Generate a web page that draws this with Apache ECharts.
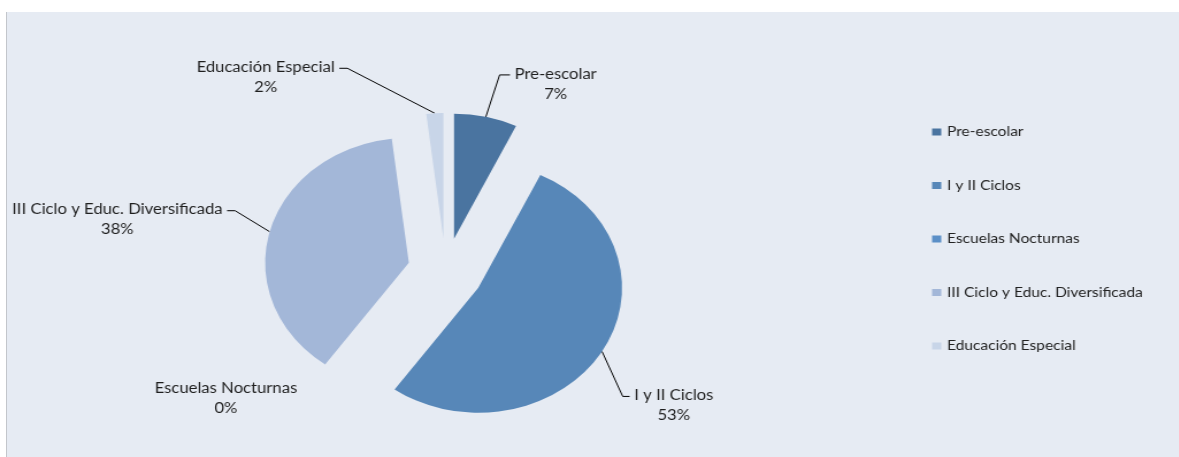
<!DOCTYPE html>
<html>
<head>
<meta charset="utf-8">
<script src="https://cdn.jsdelivr.net/npm/echarts@6/dist/echarts.min.js"></script>
<style>
  html, body { margin: 0; padding: 0; background: #ffffff; }
  body { width: 1179px; height: 457px; position: relative; overflow: hidden; }
  #panel {
    position: absolute; left: 6px; top: 12px; right: 0; bottom: 0;
    background: #e6ebf3; border-left: 1px solid #c3c6cb;
  }
  /* the plot is laid out on a narrower canvas and widened horizontally */
  #chart {
    position: absolute; left: 0; top: 0;
    width: 1025px; height: 457px;
    transform: scaleX(1.15); transform-origin: 0 0;
  }
</style>
</head>
<body>
<div id="panel"></div>
<div id="chart"></div>
<script>
// Share of students by level (percent)
const categories = [
  'Pre-escolar',
  'I y II Ciclos',
  'Escuelas Nocturnas',
  'III Ciclo y Educ. Diversificada',
  'Educación Especial'
];
const shares = [7.1, 52.8, 0, 38.2, 1.9];
const colors = ['#4a74a0', '#5787b8', '#5b8fc7', '#a3b7d8', '#c8d5e8'];

// Pie geometry
const CENTER = [387.5, 271];
const RADIUS = 125;
const EXPLODE = 33;

// Leader line shape for each label: elbow offset from the exploded slice edge, then a short horizontal tail
const guides = [
  { elbow: [12, -42], tail: 9 },
  { elbow: [18, 45], tail: 6 },
  { elbow: [-99, -1], tail: 0 },
  { elbow: [-30, -21], tail: -7 },
  { elbow: [-76, -45], tail: -7 }
];

const fontFamily = 'Lato, "Open Sans", sans-serif';

const chart = echarts.init(document.getElementById('chart'), null, { renderer: 'canvas' });

const baseSeries = {
  type: 'pie',
  center: CENTER,
  radius: RADIUS,
  startAngle: 90,
  clockwise: true,
  avoidLabelOverlap: false,
  emphasis: { disabled: true },
  itemStyle: { borderWidth: 0 }
};

chart.setOption({
  animation: false,
  backgroundColor: 'transparent',
  color: colors,
  legend: {
    orient: 'vertical',
    left: 805.5,
    top: 120,
    itemWidth: 8,
    itemHeight: 7,
    itemGap: 39.5,
    icon: 'rect',
    selectedMode: false,
    textStyle: { fontFamily: fontFamily, fontSize: 13.5, color: '#222', lineHeight: 14 },
    data: categories
  },
  series: [
    // exploded slices
    Object.assign({}, baseSeries, {
      name: 'slices',
      selectedMode: 'multiple',
      selectedOffset: EXPLODE,
      select: { itemStyle: { borderWidth: 0 } },
      label: { show: false },
      labelLine: { show: false },
      data: categories.map((name, i) => ({ name: name, value: shares[i], selected: true }))
    }),
    // category / percent labels with leader lines
    Object.assign({}, baseSeries, {
      name: 'labels',
      silent: true,
      selectedMode: false,
      itemStyle: { color: 'rgba(0,0,0,0)', borderWidth: 0 },
      label: {
        show: true,
        position: 'outside',
        fontFamily: fontFamily,
        fontSize: 14.5,
        lineHeight: 20,
        color: '#1e1e1e',
        formatter: p => p.name + '\n' + Math.round(p.percent) + '%'
      },
      labelLine: {
        show: true,
        length: 20,
        length2: 8,
        lineStyle: { color: '#000', width: 1 }
      },
      labelLayout: function (p) {
        const g = guides[p.dataIndex];
        const pts = p.labelLinePoints;
        if (!pts) return {};
        const ux = (pts[0][0] - CENTER[0]) / RADIUS;
        const uy = (pts[0][1] - CENTER[1]) / RADIUS;
        const s = [pts[0][0] + EXPLODE * ux, pts[0][1] + EXPLODE * uy];
        const elbow = [s[0] + g.elbow[0], s[1] + g.elbow[1]];
        const end = [elbow[0] + g.tail, elbow[1]];
        const w = p.labelRect.width;
        let x, y;
        if (g.tail === 0) {
          x = elbow[0];
          y = elbow[1];
        } else {
          const side = g.tail > 0 ? 1 : -1;
          x = end[0] + side * (4 + w / 2);
          y = end[1] + 9;
        }
        return {
          x: x, y: y, align: 'center', verticalAlign: 'middle',
          labelLinePoints: g.tail === 0 ? [s, s, s] : [s, elbow, end]
        };
      },
      data: categories.map((name, i) => ({
        name: name,
        value: shares[i],
        labelLine: guides[i].tail === 0 ? { lineStyle: { opacity: 0 } } : undefined
      }))
    })
  ]
});
</script>
</body>
</html>
